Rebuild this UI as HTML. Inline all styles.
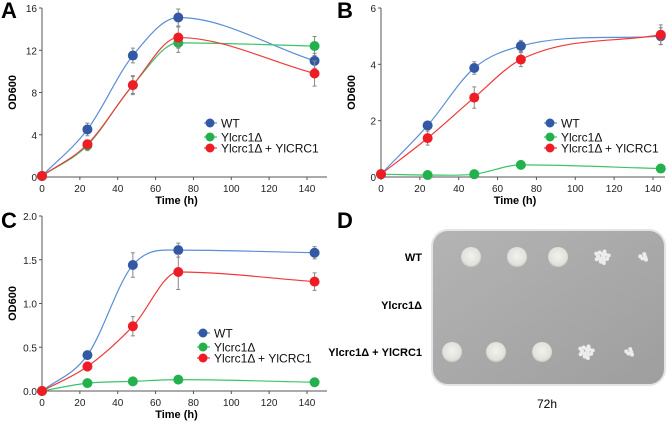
<!DOCTYPE html>
<html><head><meta charset="utf-8"><style>
body{margin:0;background:#fff;width:669px;height:423px;overflow:hidden;font-family:"Liberation Sans","DejaVu Sans",sans-serif}
svg{position:absolute;left:0;top:0}
</style></head><body>
<svg width="669" height="423" id="fig" font-family="Liberation Sans, DejaVu Sans, sans-serif">
<defs>
<radialGradient id="spot" cx="50%" cy="45%" r="55%"><stop offset="0" stop-color="#f2f2ee"/><stop offset="0.8" stop-color="#e2e2dc"/><stop offset="1" stop-color="#c8c8c4"/></radialGradient>
<linearGradient id="plate" x1="0" y1="0" x2="1" y2="1"><stop offset="0" stop-color="#b4b4b4"/><stop offset="0.5" stop-color="#a9a9a9"/><stop offset="1" stop-color="#9e9e9e"/></linearGradient>
</defs>
<g id="panels"></g>
<g>
<text x="337" y="228" font-size="22" font-weight="bold">D</text>
<rect x="432" y="230" width="233" height="155" rx="16" fill="url(#plate)" stroke="#e4e4e4" stroke-width="2"/>
<text x="422" y="261" font-size="11" font-weight="bold" text-anchor="end">WT</text>
<text x="422" y="309" font-size="11" font-weight="bold" text-anchor="end">Ylcrc1Δ</text>
<text x="422" y="356" font-size="11" font-weight="bold" text-anchor="end">Ylcrc1Δ + YlCRC1</text>
<text x="547" y="408" font-size="12" text-anchor="middle">72h</text>
<g id="spots"></g>
</g>
</svg>
<script>
const xTimes=[0,24,48,72,144];
const seriesNames=["WT","Ylcrc1Δ","Ylcrc1Δ + YlCRC1"];
const aWT=[0.1,4.5,11.5,15.1,11.0], aKO=[0.1,3.0,8.7,12.7,12.4], aRC=[0.1,3.1,8.7,13.2,9.8];
const aWTe=[0,0.6,0.7,0.8,0.7], aKOe=[0,0.5,0.8,0.9,0.9], aRCe=[0,0.4,0.9,1.0,1.2];
const bWT=[0.1,1.83,3.87,4.65,5.0], bKO=[0.1,0.07,0.1,0.43,0.3], bRC=[0.1,1.38,2.82,4.17,5.05];
const bWTe=[0,0.15,0.22,0.2,0.3], bKOe=[0,0,0,0,0], bRCe=[0,0.25,0.38,0.25,0.35];
const cWT=[0,0.41,1.44,1.61,1.58], cKO=[0,0.09,0.11,0.13,0.1], cRC=[0,0.28,0.74,1.36,1.25];
const cWTe=[0,0,0.14,0.08,0.07], cKOe=[0,0,0,0,0], cRCe=[0,0.05,0.11,0.2,0.1];
const xTicks=[0,20,40,60,80,100,120,140];
const aTicks=[0,4,8,12,16], bTicks=[0,2,4,6], cTicks=[0,0.5,1.0,1.5,2.0];
const NS="http://www.w3.org/2000/svg";
const lineCol=["#5b8ed6","#3cc46a","#f03a3a"], dotCol=["#3358a6","#22b14c","#ee1c24"];
function mk(tag,attrs,parent){const e=document.createElementNS(NS,tag);for(const k in attrs)e.setAttribute(k,attrs[k]);parent.appendChild(e);return e;}
function spline(px,py){ // monotone cubic
 const n=px.length,d=[],m=[];
 for(let i=0;i<n-1;i++)d.push((py[i+1]-py[i])/(px[i+1]-px[i]));
 m[0]=d[0];m[n-1]=d[n-2];
 for(let i=1;i<n-1;i++){m[i]=(d[i-1]*d[i]<=0)?0:(d[i-1]+d[i])/2;}
 let s="M"+px[0]+","+py[0];
 for(let i=0;i<n-1;i++){const h=px[i+1]-px[i];
 s+=" C"+(px[i]+h/3)+","+(py[i]+m[i]*h/3)+" "+(px[i+1]-h/3)+","+(py[i+1]-m[i+1]*h/3)+" "+px[i+1]+","+py[i+1];}
 return s;}
function panel(o){
 const root=document.getElementById("panels");
 const g=mk("g",{},root);
 
 
 const X=t=>o.x0+(t/140)*(o.x140-o.x0), Y=v=>o.y0-(v/o.ymax)*(o.y0-o.ytop);
 const lab=mk("text",{x:o.lx,y:o.ly,"font-size":22,"font-weight":"bold"},g);lab.textContent=o.id.toUpperCase();
 
 
 const ax=mk("path",{d:`M${o.x0},${o.ytop} V${o.y0} H${o.xend}`,stroke:"#555",fill:"none","stroke-width":1},g);
 
 
 o.yt.forEach(v=>{mk("line",{x1:o.x0-3,x2:o.x0,y1:Y(v),y2:Y(v),stroke:"#555"},g);
  const t=mk("text",{x:o.x0-5,y:Y(v)+4,"font-size":10,"text-anchor":"end",fill:"#222"},g);t.textContent=o.fmt(v);
  
  });
 xTicks.forEach(v=>{mk("line",{x1:X(v),x2:X(v),y1:o.y0,y2:o.y0+3,stroke:"#555"},g);
  const t=mk("text",{x:X(v),y:o.y0+15,"font-size":10,"text-anchor":"middle",fill:"#222"},g);t.textContent=v;
  
  });
 const xt=mk("text",{x:(o.x0+o.xend)/2-8,y:o.y0+27,"font-size":11,"font-weight":"bold","text-anchor":"middle"},g);xt.textContent="Time (h)";
 
 
 const yt=mk("text",{x:0,y:0,"font-size":11,"font-weight":"bold","text-anchor":"middle",transform:`translate(${o.x0-26},${(o.y0+o.ytop)/2}) rotate(-90)`},g);yt.textContent="OD600";
 
 
 o.s.forEach((vals,k)=>{
  const px=xTimes.map(X),py=vals.map(Y);
  const p=mk("path",{d:spline(px,py),stroke:lineCol[k],fill:"none","stroke-width":1.2},g);
  
  
  vals.forEach((v,i)=>{const e=o.e[k][i];
   if(e>0){const eb=mk("path",{d:`M${px[i]},${Y(v-e)} V${Y(v+e)} M${px[i]-2},${Y(v-e)} h4 M${px[i]-2},${Y(v+e)} h4`,stroke:"#888","stroke-width":1,fill:"none"},g);
    
    }
   const c=mk("circle",{cx:px[i],cy:py[i],r:5,fill:dotCol[k]},g);
   
   });
 });
 seriesNames.forEach((n,k)=>{const y=o.legY[k];
  const lg=mk("g",{},g);
  
  
  mk("line",{x1:o.legX-6,x2:o.legX+7,y1:y,y2:y,stroke:lineCol[k],"stroke-width":1.2},lg);
  mk("circle",{cx:o.legX,cy:y,r:4.5,fill:dotCol[k]},lg);
  const t=mk("text",{x:o.legX+11,y:y+4.5,"font-size":12,fill:"#111"},lg);t.textContent=n;});
}
panel({id:"a",x0:42,x140:307,xend:327,y0:177,ytop:8,ymax:16,yt:aTicks,fmt:v=>v,s:[aWT,aKO,aRC],e:[aWTe,aKOe,aRCe],legX:210,legY:[123,137,148],lx:1,ly:18});
panel({id:"b",x0:381,x140:653,xend:665,y0:177,ytop:8,ymax:6,yt:bTicks,fmt:v=>v,s:[bWT,bKO,bRC],e:[bWTe,bKOe,bRCe],legX:550,legY:[123,137,148],lx:337,ly:18});
panel({id:"c",x0:42,x140:307,xend:327,y0:391,ytop:216,ymax:2,yt:cTicks,fmt:v=>v.toFixed(1),s:[cWT,cKO,cRC],e:[cWTe,cKOe,cRCe],legX:203,legY:[333,347,358],lx:1,ly:228});
// spots
const sp=document.getElementById("spots");
const spotX1=[471,517,558,602,644], spotX3=[452,496,542,586,630];
function spotRow(xs,y){xs.forEach((x,i)=>{
 if(i<3){const c=mk("circle",{cx:x,cy:y,r:10,fill:"url(#spot)"},sp);
  
  }
 else{const n=i==3?14:5;for(let j=0;j<n;j++){const a=j*2.4,r=(i==3?7:4)*Math.sqrt((j+0.5)/n);
  const c=mk("circle",{cx:x+r*Math.cos(a),cy:y+r*Math.sin(a),r:2,fill:"#ececea"},sp);
  
  }}
});}
spotRow(spotX1,257);spotRow(spotX3,352);
</script>
</body></html>
